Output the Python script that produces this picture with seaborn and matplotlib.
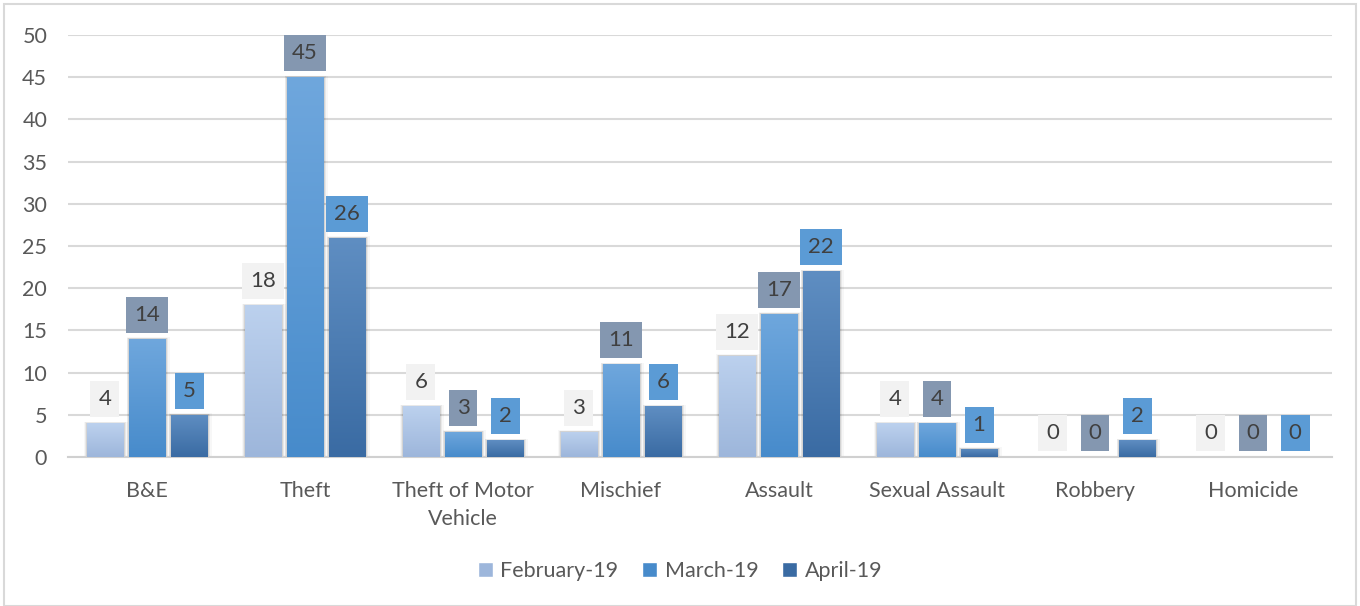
import numpy as np
import pandas as pd
import matplotlib
matplotlib.use("Agg")
import matplotlib.pyplot as plt
import seaborn as sns
from matplotlib.colors import LinearSegmentedColormap
from matplotlib.patches import Patch, Rectangle

categories = ["B&E", "Theft", "Theft of Motor\nVehicle", "Mischief", "Assault",
              "Sexual Assault", "Robbery", "Homicide"]
months = ["February-19", "March-19", "April-19"]
feb_values = [4, 18, 6, 3, 12, 4, 0, 0]
mar_values = [14, 45, 3, 11, 17, 4, 0, 0]
apr_values = [5, 26, 2, 6, 22, 1, 2, 0]

# gradient top/bottom per series, label box colours
grad_colors = {
    "February-19": ("#bcd1ee", "#9db6db"),
    "March-19": ("#6fa7dd", "#478bcb"),
    "April-19": ("#5f8ec2", "#3a6ba3"),
}
box_colors = {"February-19": "#f2f2f2", "March-19": "#8497b0", "April-19": "#5b9bd5"}

df = pd.DataFrame({
    "category": categories * 3,
    "month": [m for m in months for _ in categories],
    "count": feb_values + mar_values + apr_values,
})

sns.set_style("white")
plt.rcParams["font.family"] = ["Lato", "DejaVu Sans"]

fig = plt.figure(figsize=(13.6, 6.06), dpi=100)
ax = fig.add_axes([68 / 1360, 1 - 457 / 606, (1332 - 68) / 1360, (457 - 35) / 606])

palette = {m: grad_colors[m][1] for m in months}
sns.barplot(data=df, x="category", y="count", hue="month", order=categories,
            hue_order=months, palette=palette, width=0.8, gap=0.14,
            legend=False, ax=ax, zorder=3, linewidth=0)

ax.set_ylim(0, 50)
ax.set_xlim(-0.5, len(categories) - 0.5)


def gradient_fill(bar, top, bottom):
    x, y = bar.get_x(), bar.get_y()
    w, h = bar.get_width(), bar.get_height()
    if h <= 0:
        return
    # soft shadow
    for i, a in enumerate([0.09, 0.06, 0.03]):
        d = 0.01 * (i + 1)
        sh = Rectangle((x - d * 0.5, y), w + d * 1.5, h + d * 6,
                       facecolor="#000000", alpha=a, lw=0, zorder=2)
        ax.add_patch(sh)
    cmap = LinearSegmentedColormap.from_list("g", [top, bottom])
    grad = np.linspace(0, 1, 256).reshape(-1, 1)
    im = ax.imshow(grad, cmap=cmap, extent=[x, x + w, y, y + h], origin="upper",
                   aspect="auto", zorder=3.5)
    im.set_clip_path(bar)


for month, cont in zip(months, ax.containers):
    top, bottom = grad_colors[month]
    for bar, val in zip(cont, df.loc[df["month"] == month, "count"]):
        gradient_fill(bar, top, bottom)
        ax.annotate(f"{val:g}", (bar.get_x() + bar.get_width() / 2, val),
                    xytext=(0, 10), textcoords="offset points",
                    ha="center", va="bottom", fontsize=16, color="#404040",
                    zorder=6,
                    bbox=dict(boxstyle="square,pad=0.36", fc=box_colors[month],
                              ec="none"))

ax.set_xlim(-0.5, len(categories) - 0.5)
ax.set_ylim(0, 50)
ax.set_yticks(range(0, 51, 5))
ax.yaxis.grid(True, color="#d9d9d9", linewidth=1.5, zorder=0)
ax.set_axisbelow(True)
for s in ["left", "right", "top"]:
    ax.spines[s].set_visible(False)
ax.spines["bottom"].set_color("#d0d0d0")
ax.spines["bottom"].set_linewidth(1.5)
ax.tick_params(axis="both", length=0, labelsize=15.5, colors="#595959")
ax.tick_params(axis="y", pad=15)
ax.tick_params(axis="x", pad=17)
for lab in ax.get_xticklabels():
    lab.set_linespacing(1.5)
ax.set_xlabel("")
ax.set_ylabel("")

handles = [Patch(facecolor=grad_colors[m][1], label=m) for m in months]
fig.legend(handles=handles, loc="center", bbox_to_anchor=(0.5, 1 - 571 / 606),
           ncol=3, frameon=False, fontsize=15.5, handlelength=0.7,
           handleheight=0.7, handletextpad=0.35, columnspacing=1.1,
           labelcolor="#595959")

fig.patches.append(Rectangle((4 / 1360, 0), 1352 / 1360, 602 / 606,
                             transform=fig.transFigure, fill=False,
                             ec="#d9d9d9", lw=1.5))

fig.savefig("out.png", dpi=100)
